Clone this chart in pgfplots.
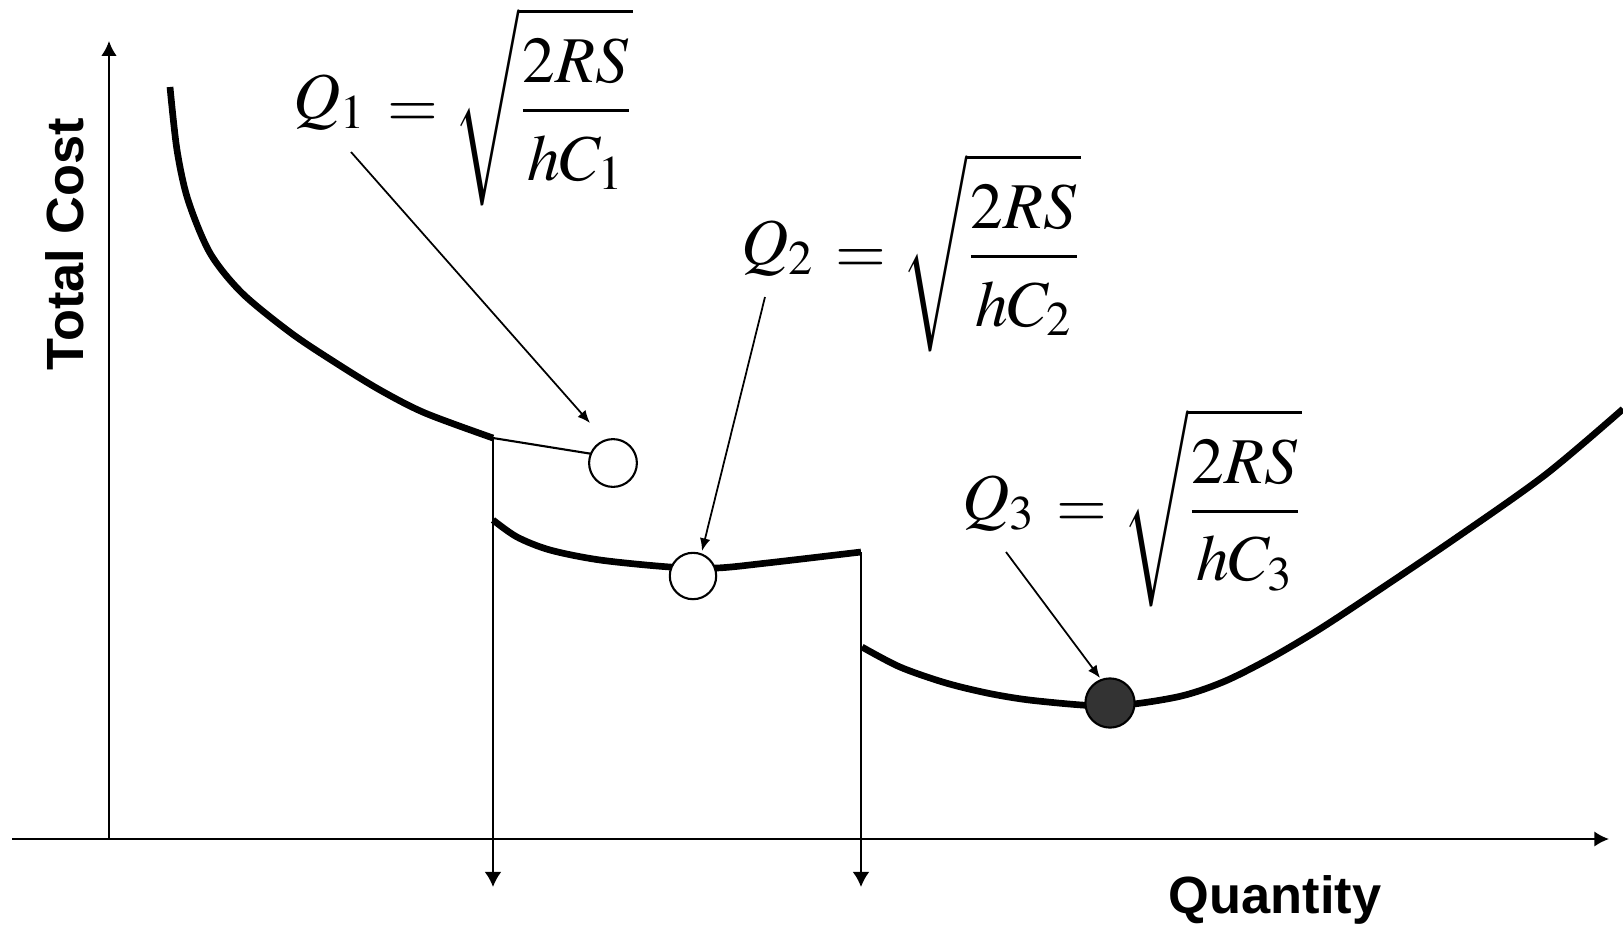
\documentclass[border=0pt]{standalone}
\usepackage{mathptmx}
\usepackage[no-math]{fontspec}
\newfontfamily\lsans{Liberation Sans}
\usepackage{pgfplots}
\pgfplotsset{compat=1.18}
\usetikzlibrary{arrows.meta}
\newcommand{\eoq}[1]{\fontsize{18.6}{24}\selectfont$\displaystyle \raisebox{0.13em}{$\displaystyle Q_{#1}$}\,=\sqrt{\frac{2RS}{\rule{0pt}{0.92em}hC_{#1}}}$}
\begin{document}
\begin{tikzpicture}
\begin{axis}[
  x=0.1mm, y=0.1mm,
  axis lines=middle,
  xmin=-96.7, xmax=1500, ymin=0, ymax=798,
  xtick=\empty, ytick=\empty,
  clip=false,
  axis line style={line width=0.6pt},
  every inner x axis line/.append style={-{Latex[length=4.2pt,width=4.4pt]}},
  every inner y axis line/.append style={-{Latex[length=4.2pt,width=4.4pt]}},
]
% curve 1
\addplot[black, line width=1.9pt, smooth, tension=0.5] coordinates {
 (61,752) (68,689) (79,639) (101,586) (133,546) (182,506) (227,476) (271,449) (316,426) (384,401)};
% thin connector to Q1
\addplot[black, line width=0.6pt] coordinates {(384,401) (496,383)};
% vertical drop lines
\addplot[black, line width=0.6pt, -{Latex[length=4.3pt,width=4.8pt]}] coordinates {(384,401) (384,-48)};
\addplot[black, line width=0.6pt, -{Latex[length=4.3pt,width=4.8pt]}] coordinates {(752,287) (752,-48)};
% curve 2
\addplot[black, line width=1.9pt, smooth, tension=0.5] coordinates {
 (384,319) (408,302) (441,289) (491,279) (561,272) (608,271) (658,276) (752,287)};
% circle 3 (behind curve 3)
\addplot[only marks, mark=*, mark size=7pt, mark options={fill=black!80, draw=black, line width=0.6pt}] coordinates {(1001,136)};
% curve 3
\addplot[black, line width=1.9pt, smooth, tension=0.5] coordinates {
 (753,192) (791,172) (837,156) (883,145) (929,138) (1001,133) (1068,142) (1114,157) (1160,180) (1206,207) (1252,237) (1344,299) (1436,364) (1514,430)};
% open circles
\addplot[only marks, mark=*, mark size=6.8pt, mark options={fill=white, draw=black, line width=0.6pt}] coordinates {(504,376)};
\addplot[only marks, mark=*, mark size=6.6pt, mark options={fill=white, draw=black, line width=0.6pt}] coordinates {(584,263)};
% annotation arrows
\addplot[black, line width=0.5pt, -{Latex[length=3.6pt,width=3pt]}] coordinates {(242,687) (481,416)};
\addplot[black, line width=0.5pt, -{Latex[length=3.6pt,width=3pt]}] coordinates {(656,542) (593,288)};
\addplot[black, line width=0.5pt, -{Latex[length=3.6pt,width=3pt]}] coordinates {(897,287) (991,161)};
% formulas
\node[anchor=north, inner sep=0pt] at (axis cs:354,832) {\eoq{1}};
\node[anchor=north, inner sep=0pt] at (axis cs:802,686) {\eoq{2}};
\node[anchor=north, inner sep=0pt] at (axis cs:1023,431) {\eoq{3}};
% labels
\node[rotate=90] at (axis cs:-44,595) {\lsans\bfseries\fontsize{14.9}{18}\selectfont Total Cost};
\node at (axis cs:1166,-61) {\lsans\bfseries\fontsize{14.9}{18}\selectfont Quantity};
\coordinate (BL) at (axis cs:-109,-94);
\coordinate (TR) at (axis cs:1514,839);
\end{axis}
\pgfresetboundingbox
\path[use as bounding box] (BL) rectangle (TR);
\end{tikzpicture}
\end{document}
